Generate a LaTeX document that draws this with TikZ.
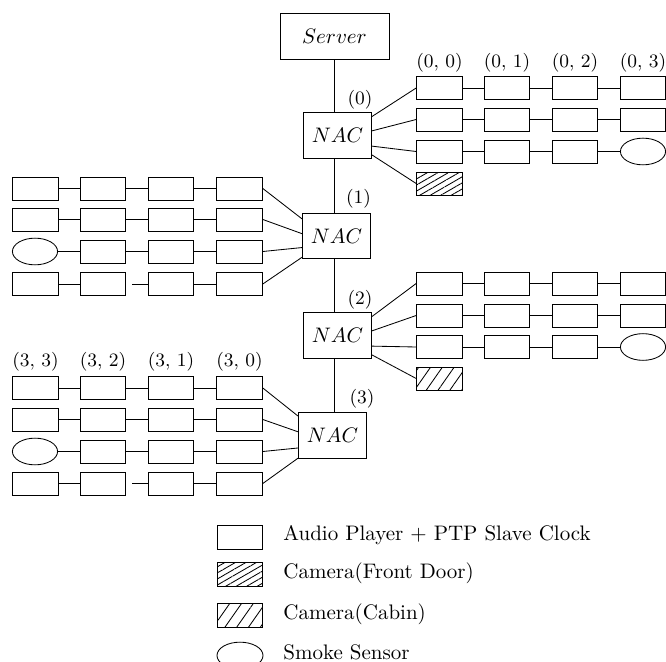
\documentclass[tikz,border=0pt]{standalone}
\usetikzlibrary{shapes.geometric,patterns.meta,calc}
\begin{document}
\begin{tikzpicture}[x=0.476pt,y=-0.476pt,
  box/.style={draw, minimum width=21.8pt, minimum height=10.9pt, inner sep=0pt},
  sensor/.style={draw, ellipse, minimum width=21.5pt, minimum height=12.7pt, inner sep=0pt},
  nacbox/.style={draw, minimum width=32.4pt, minimum height=21.6pt, inner sep=0pt},
  srv/.style={draw, minimum width=51.9pt, minimum height=21.9pt, inner sep=0pt},
  lab/.style={font=\small, inner sep=0pt},
  legtext/.style={anchor=west, inner sep=0pt},
  frontdoor/.style={pattern={Lines[angle=30,distance=2.5pt,line width=0.4pt]}},
  cabin/.style={pattern={Lines[angle=55,distance=4.6pt,line width=0.4pt]}}
]
\useasboundingbox (0,0) rectangle (666,662);

% backbone
\node[srv] (server) at (334.5,36) {$Server$};
\node[nacbox] (n0) at (337.5,135.5) {$NAC$};
\node[nacbox] (n1) at (336.5,236) {$NAC$};
\node[nacbox] (n2) at (337.5,335.5) {$NAC$};
\node[nacbox] (n3) at (332.5,435.5) {$NAC$};
\draw (server.south) -- (server.south |- n0.north);
\draw (server.south |- n0.south) -- (server.south |- n1.north);
\draw (server.south |- n1.south) -- (server.south |- n2.north);
\draw (server.south |- n2.south) -- (server.south |- n3.north);
\node[lab] (l0) at (360,100) {(0)};
\node[lab] (l1) at (358.5,199) {(1)};
\node[lab] (l2) at (360,300) {(2)};
\node[lab] (l3) at (362,399) {(3)};

% right group of NAC 0
\foreach \c/\x in {1/439.5,2/507,3/575,4/643} {
  \node[box] (a1\c) at (\x,88) {};
  \node[box] (a2\c) at (\x,119.5) {};
}
\foreach \c/\x in {1/439.5,2/507,3/575} \node[box] (a3\c) at (\x,151.5) {};
\node[sensor] (a34) at (643,151.5) {};
\node[box, frontdoor] (a41) at (439.5,183.5) {};
\foreach \c/\x in {0/439.5,1/507,2/575,3/643} \node[lab] (t0\c) at (\x,63) {$(0,\,\c)$};
\foreach \r in {1,2,3} \foreach \c/\d in {1/2,2/3,3/4} \draw (a\r\c.east) -- (a\r\d.west);
\foreach \r/\f in {1/0.09,2/0.4,3/0.73,4/0.92} \draw ($(n0.north east)!\f!(n0.south east)$) -- (a\r1.west);

% right group of NAC 2
\foreach \c/\x in {1/439.5,2/507,3/575,4/643} {
  \node[box] (b1\c) at (\x,283.5) {};
  \node[box] (b2\c) at (\x,315.5) {};
}
\foreach \c/\x in {1/439.5,2/507,3/575} \node[box] (b3\c) at (\x,347) {};
\node[sensor] (b34) at (643,347) {};
\node[box, cabin] (b41) at (439.5,378.5) {};
\foreach \r in {1,2,3} \foreach \c/\d in {1/2,2/3,3/4} \draw (b\r\c.east) -- (b\r\d.west);
\foreach \r/\f in {1/0.09,2/0.4,3/0.73,4/0.92} \draw ($(n2.north east)!\f!(n2.south east)$) -- (b\r1.west);

% left group of NAC 1
\foreach \c/\x in {1/35.5,2/103,3/171,4/239.5} {
  \node[box] (c1\c) at (\x,188.5) {};
  \node[box] (c2\c) at (\x,219.5) {};
  \node[box] (c4\c) at (\x,284) {};
}
\node[sensor] (c31) at (35,251.5) {};
\foreach \c/\x in {2/103,3/171,4/239.5} \node[box] (c3\c) at (\x,251.5) {};
\foreach \r in {1,2,3} \foreach \c/\d in {1/2,2/3,3/4} \draw (c\r\c.east) -- (c\r\d.west);
\draw (c41.east) -- (c42.west);
\draw ([xshift=2.9pt]c42.east) -- (c43.west);
\draw (c43.east) -- (c44.west);
\foreach \r/\f in {1/0.13,2/0.45,3/0.75,4/0.96} \draw (c\r4.east) -- ($(n1.north west)!\f!(n1.south west)$);

% left group of NAC 3
\foreach \c/\x in {1/35.5,2/103,3/171,4/239.5} {
  \node[box] (d1\c) at (\x,388) {};
  \node[box] (d2\c) at (\x,419.5) {};
  \node[box] (d4\c) at (\x,483.5) {};
}
\node[sensor] (d31) at (35,451.5) {};
\foreach \c/\x in {2/103,3/171,4/239.5} \node[box] (d3\c) at (\x,451.5) {};
\foreach \c/\x in {3/35.5,2/103,1/171,0/239.5} \node[lab] (t3\c) at (\x,362) {$(3,\,\c)$};
\foreach \r in {1,2,3} \foreach \c/\d in {1/2,2/3,3/4} \draw (d\r\c.east) -- (d\r\d.west);
\draw (d41.east) -- (d42.west);
\draw ([xshift=2.9pt]d42.east) -- (d43.west);
\draw (d43.east) -- (d44.west);
\foreach \r/\f in {1/0.08,2/0.42,3/0.77,4/0.99} \draw (d\r4.east) -- ($(n3.north west)!\f!(n3.south west)$);

% legend
\node[box, minimum height=11.4pt] (k1) at (240,537) {};
\node[box, minimum height=11.4pt, frontdoor] (k2) at (240,574) {};
\node[box, minimum height=11.4pt, cabin] (k3) at (240,615) {};
\node[sensor, minimum width=21.9pt] (k4) at (240,655.5) {};
\node[legtext] (k1t) at (283,535) {Audio Player + PTP Slave Clock};
\node[legtext] (k2t) at (283,573) {Camera(Front Door)};
\node[legtext] (k3t) at (283,614) {Camera(Cabin)};
\node[legtext] (k4t) at (283,652) {Smoke Sensor};
\end{tikzpicture}
\end{document}
